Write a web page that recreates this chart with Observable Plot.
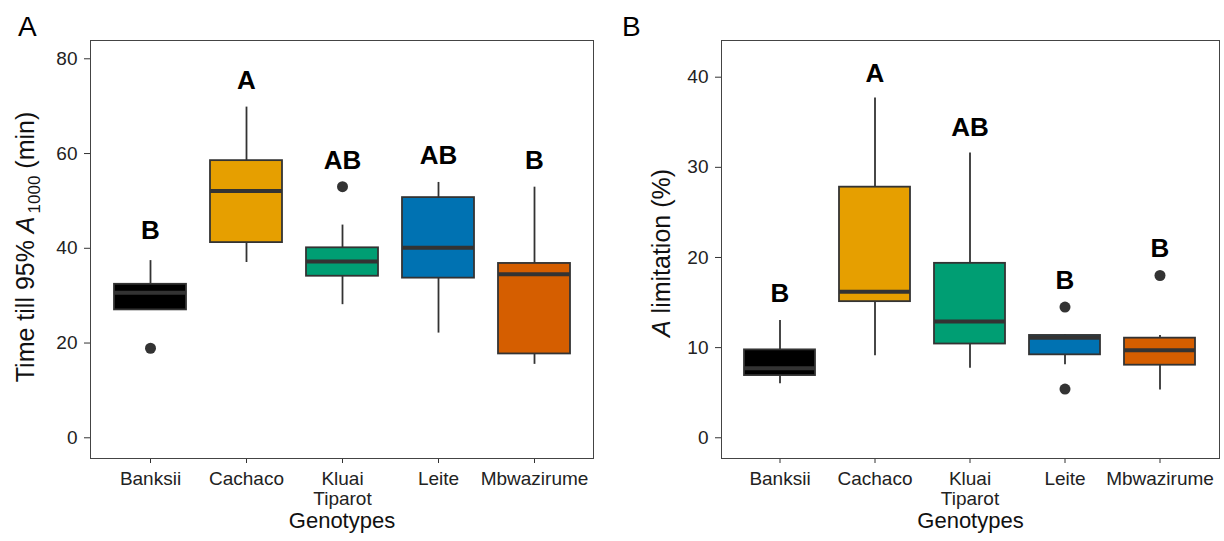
<!DOCTYPE html>
<html><head><meta charset="utf-8">
<script src="https://cdn.jsdelivr.net/npm/d3@7"></script>
<script src="https://cdn.jsdelivr.net/npm/@observablehq/plot@0.6"></script>
<style>
body{margin:0;background:#fff;font-family:"Liberation Sans",Arial,sans-serif;}
#wrap{position:relative;width:1224px;height:541px;overflow:hidden;}
.panel{position:absolute;top:0;}
</style></head><body>
<div id="wrap"><div class="panel" id="pa" style="left:0"></div><div class="panel" id="pb" style="left:612px"></div></div>
<script>
const genotypes = ["Banksii", "Cachaco", "Kluai\nTiparot", "Leite", "Mbwazirume"];
const boxColors = ["#000000", "#E69F00", "#009E73", "#0072B2", "#D55E00"];
const xTitle = "Genotypes";

// Panel A: time till 95% A1000 (min)
const aLow  = [27.0, 37.0, 28.1, 22.1, 15.5];
const aQ1   = [27.0, 41.2, 34.1, 33.7, 17.7];
const aMed  = [30.6, 52.1, 37.2, 40.1, 34.5];
const aQ3   = [32.4, 58.5, 40.1, 50.7, 36.8];
const aHigh = [37.4, 69.8, 44.9, 53.9, 52.9];
const aOutGenotype = ["Banksii", "Kluai\nTiparot"];
const aOutValue = [18.9, 53.0];
const aLetters = ["B", "A", "AB", "AB", "B"];
const aLetterY = [43.8, 75.4, 58.6, 59.6, 58.6];
const aTicks = [0, 20, 40, 60, 80];

// Panel B: A limitation (%)
const bLow  = [6.0, 9.1, 7.7, 8.1, 5.3];
const bQ1   = [6.9, 15.1, 10.4, 9.2, 8.05];
const bMed  = [7.7, 16.2, 12.9, 11.1, 9.7];
const bQ3   = [9.75, 27.8, 19.35, 11.35, 11.05];
const bHigh = [13.0, 37.7, 31.6, 11.4, 11.35];
const bOutGenotype = ["Leite", "Leite", "Mbwazirume"];
const bOutValue = [14.5, 5.4, 18.0];
const bLetters = ["B", "A", "AB", "B", "B"];
const bLetterY = [16.0, 40.4, 34.45, 17.45, 21.0];
const bTicks = [0, 10, 20, 30, 40];

const FONT = '"Liberation Sans", Arial, sans-serif';

function panel(o) {
  const rows = genotypes.map((g, i) => ({g, low: o.low[i], q1: o.q1[i], med: o.med[i], q3: o.q3[i], high: o.high[i], letter: o.letters[i], ly: o.letterY[i]}));
  const outs = o.outG.map((g, i) => ({g, v: o.outV[i]}));
  const svg = Plot.plot({
    width: 612, height: 541, marginTop: 40, marginBottom: 83, marginLeft: o.marginLeft, marginRight: o.marginRight,
    style: {fontFamily: FONT, color: "#222", background: "white", overflow: "visible"},
    x: {type: "band", domain: genotypes, paddingInner: 0.25, paddingOuter: 0.225, label: null},
    y: {domain: o.yDomain, label: null},
    color: {domain: genotypes, range: boxColors},
    marks: [
      Plot.axisY(o.ticks, {tickSize: 6, tickPadding: 7, fontSize: 19, stroke: "#333", label: null}),
      Plot.axisX({tickSize: 5, tickPadding: 8, fontSize: 19, lineHeight: 1.02, stroke: "#333", label: null}),
      Plot.ruleX(rows, {x: "g", y1: "low", y2: "q1", stroke: "#333", strokeWidth: 1.8}),
      Plot.ruleX(rows, {x: "g", y1: "q3", y2: "high", stroke: "#333", strokeWidth: 1.8}),
      Plot.barY(rows, {x: "g", y1: "q1", y2: "q3", fill: "g", stroke: "#333", strokeWidth: 1.8}),
      Plot.tickY(rows, {x: "g", y: "med", stroke: "#333", strokeWidth: 4}),
      Plot.dot(outs, {x: "g", y: "v", r: 5.5, fill: "#333", stroke: null}),
      Plot.text(rows, {x: "g", y: "ly", text: "letter", fontSize: 26, fontWeight: "bold", fill: "#000"}),
      Plot.text([xTitle], {text: d => d, frameAnchor: "bottom", dy: 69, fontSize: 22, fill: "#111"}),
      Plot.frame({stroke: "#444", strokeWidth: 1})
    ]
  });
  const s = d3.select(svg);
  s.append("text").attr("x", o.tagX).attr("y", 36).attr("font-size", 28).attr("fill", "#000")
    .attr("text-anchor", "start").attr("font-family", FONT).text(o.tag);
  const t = s.append("text").attr("transform", `translate(${o.titleX},${o.titleY}) rotate(-90)`)
    .attr("text-anchor", "middle").attr("font-size", 25).attr("fill", "#111").attr("font-family", FONT);
  o.titleParts.forEach(p => {
    const ts = t.append("tspan").text(p.t);
    if (p.italic) ts.attr("font-style", "italic");
    if (p.sub) ts.attr("font-size", 17).attr("dy", 6).attr("dx", 3);
    if (p.unsub) ts.attr("dy", -6);
  });
  return svg;
}

document.getElementById("pa").appendChild(panel({
  low: aLow, q1: aQ1, med: aMed, q3: aQ3, high: aHigh, outG: aOutGenotype, outV: aOutValue,
  letters: aLetters, letterY: aLetterY, ticks: aTicks, yDomain: [-4.37, 83.86],
  marginLeft: 90, marginRight: 19, tag: "A", tagX: 18, titleX: 34, titleY: 247,
  titleParts: [{t: "Time till 95% "}, {t: "A", italic: true}, {t: "1000", sub: true}, {t: " (min)", unsub: true}]
}));
document.getElementById("pb").appendChild(panel({
  low: bLow, q1: bQ1, med: bMed, q3: bQ3, high: bHigh, outG: bOutGenotype, outV: bOutValue,
  letters: bLetters, letterY: bLetterY, ticks: bTicks, yDomain: [-2.30, 44.07],
  marginLeft: 109, marginRight: 5, tag: "B", tagX: 10, titleX: 58, titleY: 253,
  titleParts: [{t: "A", italic: true}, {t: " limitation (%)"}]
}));
</script>
</body></html>
